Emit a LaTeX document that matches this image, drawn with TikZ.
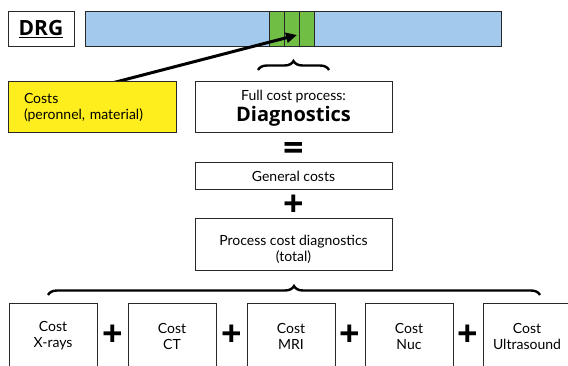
\documentclass[tikz,border=0pt]{standalone}
\usepackage{fontspec}
\setmainfont{Lato}
\newfontfamily\boldsans{Open Sans}
\usetikzlibrary{arrows.meta,decorations.pathreplacing}
\definecolor{barblue}{RGB}{163,201,236}
\definecolor{segreen}{RGB}{112,190,68}
\definecolor{costyellow}{RGB}{255,238,30}
\definecolor{edgegray}{RGB}{40,40,40}
\begin{document}
\begin{tikzpicture}[x=1pt,y=-1pt,
  box/.style={draw=edgegray, line width=1pt, fill=white, inner sep=0pt, align=center,
    font=\fontsize{14}{16}\selectfont},
  seg/.style={draw=edgegray, line width=1pt, fill=segreen, minimum width=15, minimum height=35, inner sep=0pt},
  bigsign/.style={inner sep=0pt, anchor=base, font=\boldsans\bfseries\fontsize{36}{36}\selectfont},
  bracestyle/.style={decorate, decoration={brace, amplitude=9pt}, line width=2.4pt, black},
  lbl/.style={inner sep=0pt, align=center, font=\fontsize{14}{16}\selectfont},
  pointer/.style={line width=3pt, -{Triangle[length=11pt,width=10pt]}}
]
\useasboundingbox (0,0) rectangle (568,366);

% top row
\node[box, minimum width=66, minimum height=35, font=\boldsans\bfseries\fontsize{21}{24}\selectfont] (drg) at (41,29.5) {\underline{DRG}};
\node[draw=edgegray, line width=1pt, fill=barblue, minimum width=416, minimum height=35, inner sep=0pt] (bar) at (293,29.5) {};
\node[seg] (g1) at (276.5,29.5) {};
\node[seg] (g2) at (291.5,29.5) {};
\node[seg] (g3) at (306.5,29.5) {};

% arrow
\coordinate (arrowstart) at (112,83);
\coordinate (arrowtip) at (297,35);
\draw[pointer] (arrowstart) -- (arrowtip);

% top brace
\coordinate (tb1) at (258,70);
\coordinate (tb2) at (329,70);
\draw[bracestyle] (tb1) -- (tb2);

% yellow box
\node[box, fill=costyellow, minimum width=168, minimum height=51, text width=136, inner xsep=16pt, align=left] (costs) at (92,107.5) {Costs\\(peronnel, material)};

% full cost box
\node[box, minimum width=197, minimum height=51, text depth=3pt] (full) at (293.5,107.5) {Full cost process:\\[2pt]{\boldsans\bfseries\fontsize{20}{22}\selectfont Diagnostics}};

\node[bigsign] (eq) at (293.5,161) {=};

\node[box, minimum width=197, minimum height=27] (general) at (293.5,176.5) {General costs};

\node[bigsign] (plus0) at (293.5,217) {+};

\node[box, minimum width=197, minimum height=52, text height=35pt] (process) at (293.5,245) {Process cost diagnostics\\(total)};

% bottom brace
\coordinate (bb1) at (48,295);
\coordinate (bb2) at (540,295);
\draw[bracestyle] (bb1) -- (bb2);

% bottom boxes
\node[box, minimum width=88, minimum height=76] (b1) at (53,342) {};
\node[box, minimum width=88, minimum height=76] (b2) at (172,342) {};
\node[box, minimum width=88, minimum height=76] (b3) at (291,342) {};
\node[box, minimum width=88, minimum height=76] (b4) at (409,342) {};
\node[box, minimum width=88, minimum height=76] (b5) at (527,342) {};

\node[lbl] (t1) at (53,336) {Cost\\X-rays};
\node[lbl] (t2) at (172,336) {Cost\\CT};
\node[lbl] (t3) at (291,336) {Cost\\MRI};
\node[lbl] (t4) at (409,336) {Cost\\Nuc};
\node[lbl] (t5) at (527,336) {Cost\\Ultrasound};

\node[bigsign] (p1) at (112.5,346) {+};
\node[bigsign] (p2) at (231.5,346) {+};
\node[bigsign] (p3) at (350,346) {+};
\node[bigsign] (p4) at (468,346) {+};
\end{tikzpicture}
\end{document}
